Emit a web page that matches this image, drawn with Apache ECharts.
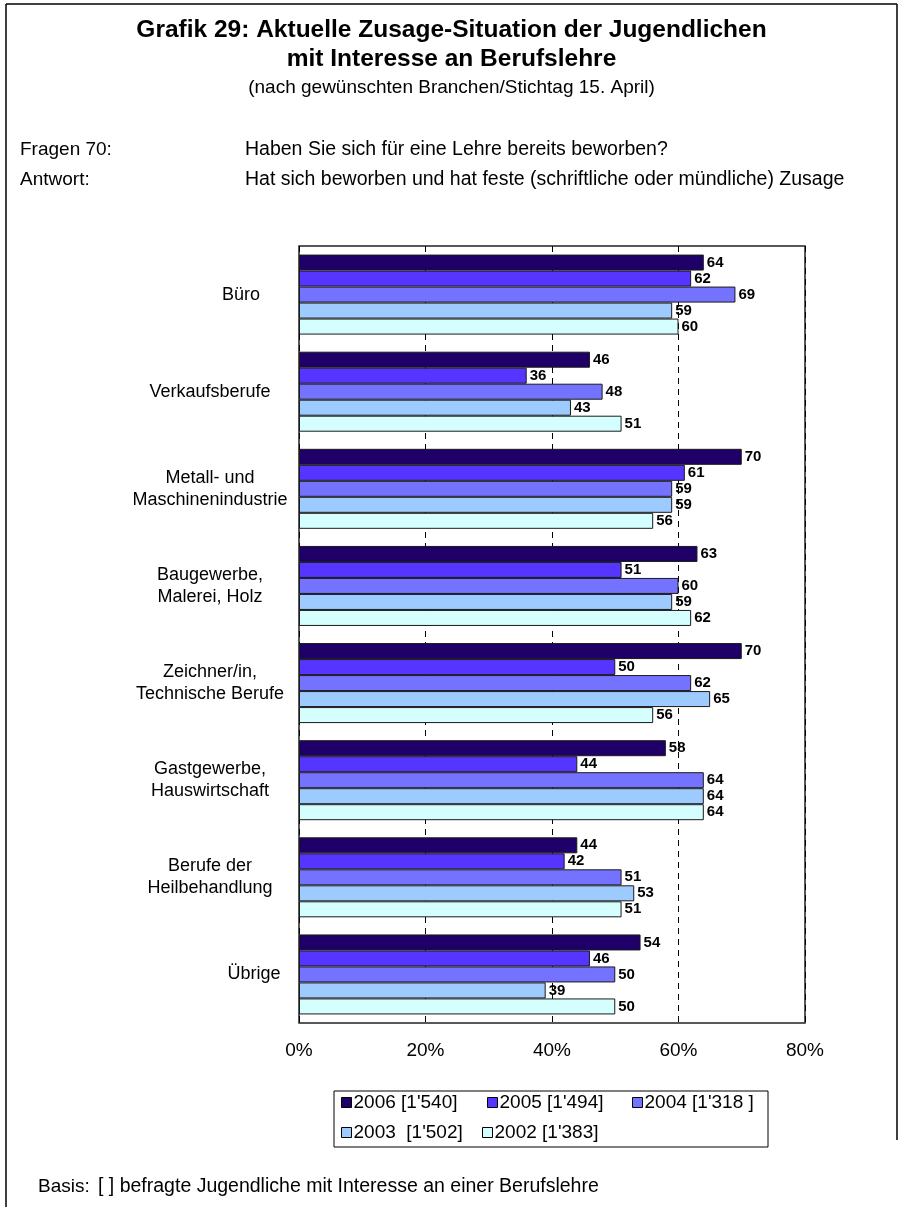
<!DOCTYPE html>
<html><head><meta charset="utf-8">
<script src="https://cdn.jsdelivr.net/npm/echarts@6/dist/echarts.min.js"></script>
<style>html,body{margin:0;padding:0;background:#fff}#c{width:903px;height:1207px}</style>
</head><body><div id="c"></div>
<script>
const categories = ['Büro','Verkaufsberufe','Metall- und\nMaschinenindustrie','Baugewerbe,\nMalerei, Holz','Zeichner/in,\nTechnische Berufe','Gastgewerbe,\nHauswirtschaft','Berufe der\nHeilbehandlung','Übrige'];
const seriesNames = ["2006 [1'540]","2005 [1'494]","2004 [1'318 ]","2003  [1'502]","2002 [1'383]"];
const v2006 = [64,46,70,63,70,58,44,54];
const v2005 = [62,36,61,51,50,44,42,46];
const v2004 = [69,48,59,60,62,64,51,50];
const v2003 = [59,43,59,59,65,64,53,39];
const v2002 = [60,51,56,62,56,64,51,50];
const tickLabels = ['0%','20%','40%','60%','80%'];
const colors = ['#1e0068','#5535ff','#7373ff','#9dcbff','#d5ffff'];
const values = [v2006,v2005,v2004,v2003,v2002];

const FONT = 'Liberation Sans, Arial, sans-serif';
const chart = echarts.init(document.getElementById('c'), null, {renderer:'canvas'});

const series = values.map((d,i)=>({
  name: seriesNames[i], type:'bar', data:d, barWidth:16, barGap:'0%',
  itemStyle:{color:colors[i], borderColor:'#1a1a1a', borderWidth:1},
  label:{show:true, position:'right', distance:3, color:'#000', fontFamily:FONT, fontWeight:'bold', fontSize:15},
  z:10, zlevel:1
}));

const legendPos = [[341,1093],[487,1093],[632,1093],[341,1123],[482,1123]];
const legends = seriesNames.map((n,i)=>({
  data:[n], left:legendPos[i][0], top:legendPos[i][1], itemWidth:10, itemHeight:10, itemGap:0,
  icon:'rect', padding:0,
  textStyle:{fontFamily:FONT, fontSize:19, color:'#000', padding:[0,0,0,-3]},
  itemStyle:{borderColor:'#000', borderWidth:1}
}));

chart.setOption({
  animation:false,
  textStyle:{fontFamily:FONT},
  grid:{left:299, right:98, top:246, bottom:184, show:true, borderColor:'#222', borderWidth:1.5, backgroundColor:'transparent'},
  xAxis:{type:'value', min:0, max:80, interval:20, z:0,
    axisLine:{show:false}, axisTick:{show:false},
    axisLabel:{formatter:(v)=>tickLabels[v/20], fontFamily:FONT, fontSize:19, color:'#000', margin:18},
    splitLine:{show:true, lineStyle:{type:[6,5], color:'#000', width:1}}},
  yAxis:{type:'category', data:categories, inverse:true, z:0,
    axisLine:{show:false}, axisTick:{show:false},
    axisLabel:{fontFamily:FONT, fontSize:18, color:'#000', align:'center', margin:89, lineHeight:22,
      formatter:(v)=> v==='Büro' ? '{b|'+v+'}' : (v==='Übrige' ? '{u|'+v+'}' : v),
      rich:{b:{fontSize:18, padding:[0,0,0,62]}, u:{fontSize:18, padding:[0,0,0,88]}}}},
  legend:legends,
  series:series,
  graphic:[
    {type:'line', shape:{x1:6,y1:4,x2:897,y2:4}, style:{stroke:'#000', lineWidth:1.5}},
    {type:'line', shape:{x1:6,y1:4,x2:6,y2:1207}, style:{stroke:'#000', lineWidth:1.5}},
    {type:'line', shape:{x1:897,y1:4,x2:897,y2:1140}, style:{stroke:'#000', lineWidth:1.5}},
    {type:'text', left:'center', top:18, style:{text:'Grafik 29: Aktuelle Zusage-Situation der Jugendlichen', font:'bold 24.5px '+FONT, fill:'#000'}},
    {type:'text', left:'center', top:47, style:{text:'mit Interesse an Berufslehre', font:'bold 24.5px '+FONT, fill:'#000'}},
    {type:'text', left:'center', top:78, style:{text:'(nach gewünschten Branchen/Stichtag 15. April)', font:'19px '+FONT, fill:'#000'}},
    {type:'text', left:20, top:140, style:{text:'Fragen 70:', font:'19px '+FONT, fill:'#000'}},
    {type:'text', left:245, top:140, style:{text:'Haben Sie sich für eine Lehre bereits beworben?', font:'19.5px '+FONT, fill:'#000'}},
    {type:'text', left:20, top:170, style:{text:'Antwort:', font:'19px '+FONT, fill:'#000'}},
    {type:'text', left:245, top:170, style:{text:'Hat sich beworben und hat feste (schriftliche oder mündliche) Zusage', font:'19.5px '+FONT, fill:'#000'}},
    {type:'rect', shape:{x:334, y:1091, width:434, height:56}, style:{fill:'none', stroke:'#000', lineWidth:1}},
    {type:'text', left:38, top:1177, style:{text:'Basis:', font:'19px '+FONT, fill:'#000'}},
    {type:'text', left:98, top:1177, style:{text:'[ ] befragte Jugendliche mit Interesse an einer Berufslehre', font:'19.5px '+FONT, fill:'#000'}}
  ]
});
</script></body></html>
